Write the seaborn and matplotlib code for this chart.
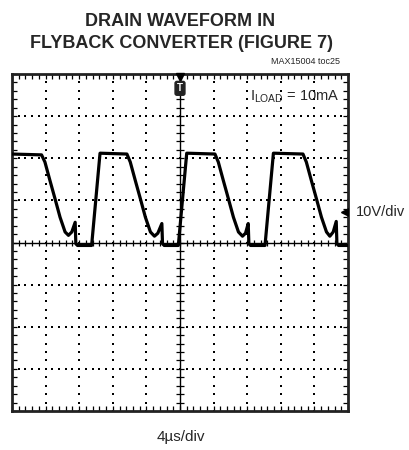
import matplotlib
matplotlib.use("Agg")
import matplotlib.pyplot as plt
import seaborn as sns
import numpy as np
import pandas as pd

W, H = 409, 450

# scope trace in divisions (x 0..10, y -4..4, 0 = centre line)
cycle1_t = [0.00, 0.88, 0.98, 1.13, 1.28, 1.43, 1.58, 1.68, 1.78, 1.88, 1.90, 1.95, 2.37, 2.62]
cycle1_v = [2.10, 2.08, 1.91, 1.47, 1.04, 0.60, 0.25, 0.17, 0.25, 0.48, -0.03, -0.07, -0.07, 2.12]
cycle2_t = [3.42, 3.52, 3.67, 3.82, 3.97, 4.12, 4.24, 4.34, 4.46, 4.48, 4.53, 4.95, 5.20]
cycle2_v = [2.10, 1.91, 1.47, 1.04, 0.60, 0.25, 0.15, 0.22, 0.45, -0.03, -0.07, -0.07, 2.12]
cycle3_t = [6.04, 6.14, 6.29, 6.44, 6.59, 6.74, 6.86, 6.95, 7.03, 7.05, 7.10, 7.53, 7.78]
cycle3_v = [2.10, 1.91, 1.47, 1.04, 0.60, 0.25, 0.15, 0.22, 0.45, -0.03, -0.07, -0.07, 2.12]
cycle4_t = [8.66, 8.76, 8.91, 9.06, 9.21, 9.36, 9.46, 9.56, 9.65, 9.67, 9.72, 10.00]
cycle4_v = [2.10, 1.91, 1.47, 1.04, 0.60, 0.25, 0.15, 0.25, 0.50, -0.03, -0.07, -0.07]

df = pd.DataFrame({
    "t": cycle1_t + cycle2_t + cycle3_t + cycle4_t,
    "v": cycle1_v + cycle2_v + cycle3_v + cycle4_v,
})

sns.set_style("white")
plt.rcParams["font.family"] = ["Liberation Sans", "DejaVu Sans"]
plt.rcParams["mathtext.fontset"] = "custom"
plt.rcParams["mathtext.rm"] = "Liberation Sans"

fig = plt.figure(figsize=(W / 100, H / 100), dpi=100)
# screen box in pixels: left 12, right 348, top 74, bottom 411
ax = fig.add_axes([12 / W, (H - 411) / H, 336 / W, 337 / H])
ax.set_xlim(0, 10)
ax.set_ylim(-4, 4)

# dotted graticule
for gx in range(1, 10):
    if gx == 5:
        continue
    ys = np.arange(-4, 4.01, 0.2)
    ax.scatter(np.full(len(ys), gx), ys, s=1.5, marker="s", color="black", linewidths=0, zorder=1)
for gy in range(-3, 4):
    if gy == 0:
        continue
    xs = np.arange(0, 10.01, 0.2)
    ax.scatter(xs, np.full(len(xs), gy), s=1.5, marker="s", color="black", linewidths=0, zorder=1)

# centre cross with tick marks
ax.axhline(0, color="black", lw=1, zorder=2)
ax.axvline(5, color="black", lw=1, zorder=2)
xs = np.arange(0, 10.01, 0.2)
ys = np.arange(-4, 4.01, 0.2)
ax.plot(xs, np.zeros(len(xs)), ls="none", marker="|", ms=5, mew=0.9, color="black", zorder=2)
ax.plot(np.full(len(ys), 5), ys, ls="none", marker="_", ms=6, mew=0.9, color="black", zorder=2)

# the trace
sns.lineplot(data=df, x="t", y="v", sort=False, estimator=None, color="black", lw=2.3, ax=ax, zorder=3)

# border ticks
ax.set_xticks([])
ax.set_yticks([])
ax.set_xticks(np.arange(0, 10.01, 0.2), minor=True)
ax.set_yticks(np.arange(-4, 4.01, 0.2), minor=True)
ax.tick_params(which="minor", direction="in", length=3.5, width=0.9, color="black",
               top=True, right=True, bottom=True, left=True)
ax.set_xlabel("")
ax.set_ylabel("")
for sp in ax.spines.values():
    sp.set_linewidth(2)
    sp.set_color("#222222")

# trigger marker
ax.plot([5], [3.94], marker="v", ms=5.5, color="black", clip_on=False, zorder=4)
ax.text(5, 3.66, "T", ha="center", va="center", color="white", fontsize=7, fontweight="bold",
        bbox=dict(boxstyle="round,pad=0.2", fc="#222222", ec="#222222"), zorder=4)

# channel offset arrow on right edge
ax.plot([9.9], [0.72], marker="<", ms=5.5, color="black", zorder=4)

ax.text(9.75, 3.45, r"$\mathregular{I_{LOAD}}$ = 10mA", ha="right", va="center", fontsize=10.5)

fig.text(180 / W, 1 - 21 / H, "DRAIN WAVEFORM IN", ha="center", va="center",
         fontsize=13, fontweight="bold")
fig.text(182 / W, 1 - 44 / H, "FLYBACK CONVERTER (FIGURE 7)", ha="center", va="center",
         fontsize=13, fontweight="bold")
fig.text(340 / W, 1 - 62 / H, "MAX15004 toc25", ha="right", va="center", fontsize=6.5)
fig.text(356 / W, 1 - 212 / H, "10V/div", ha="left", va="center", fontsize=10.5)
fig.text(181 / W, 1 - 437 / H, "4µs/div", ha="center", va="center", fontsize=11)

fig.savefig("out.png", dpi=100)
